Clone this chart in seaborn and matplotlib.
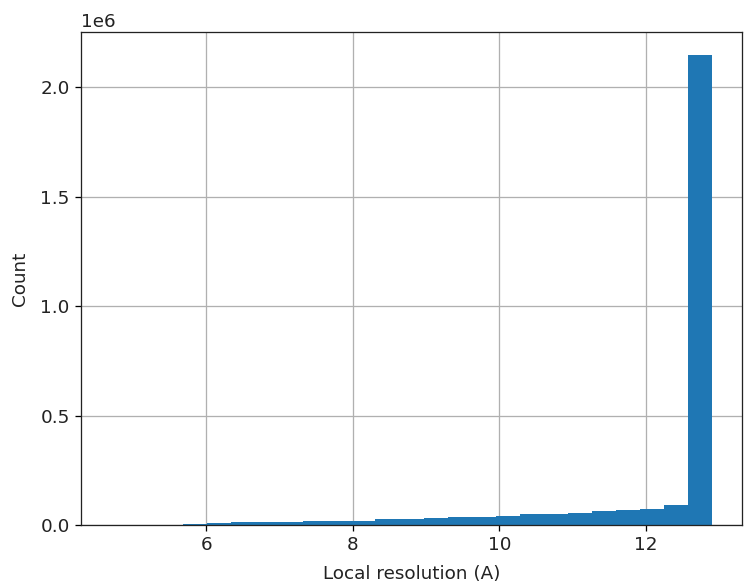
import numpy as np
import pandas as pd
import seaborn as sns
import matplotlib
matplotlib.use("Agg")
import matplotlib.pyplot as plt

# Histogram data: 25 equal bins between these limits
bin_low = 4.7
bin_high = 12.9
n_bins = 25
counts = [200, 500, 1500, 6000, 8000, 12000, 13000, 14000, 18000, 19000,
          20000, 26000, 27000, 31000, 36000, 38000, 42000, 49000, 51000,
          56000, 62000, 67000, 73000, 91000, 2146000]
x_label = "Local resolution (A)"
y_label = "Count"

plt.rcParams["font.size"] = 11.5
plt.rcParams["text.color"] = "#222222"
plt.rcParams["axes.labelcolor"] = "#222222"
plt.rcParams["xtick.labelcolor"] = "#222222"
plt.rcParams["ytick.labelcolor"] = "#222222"
plt.rcParams["axes.edgecolor"] = "#222222"

edges = np.linspace(bin_low, bin_high, n_bins + 1)
centers = (edges[:-1] + edges[1:]) / 2
df = pd.DataFrame({"res": centers, "w": counts})

DPI = 115
fig = plt.figure(figsize=(746 / DPI, 588 / DPI), dpi=DPI)
ax = fig.add_axes([81 / 746, 1 - 525 / 588, (742 - 81) / 746, (525 - 32) / 588])

sns.histplot(data=df, x="res", weights="w", bins=n_bins,
             binrange=(bin_low, bin_high), ax=ax,
             color="#1f77b4", alpha=1.0, edgecolor="none", linewidth=0)

ax.set_axisbelow(True)
ax.grid(True, color="#b0b0b0", linewidth=0.8)
ax.set_xlabel(x_label, labelpad=7)
ax.set_ylabel(y_label, labelpad=7)
ax.set_xlim(bin_low - 0.05 * (bin_high - bin_low), bin_high + 0.05 * (bin_high - bin_low))
ax.set_ylim(0, max(counts) * 1.05)

fig.savefig("out.png", dpi=DPI)
